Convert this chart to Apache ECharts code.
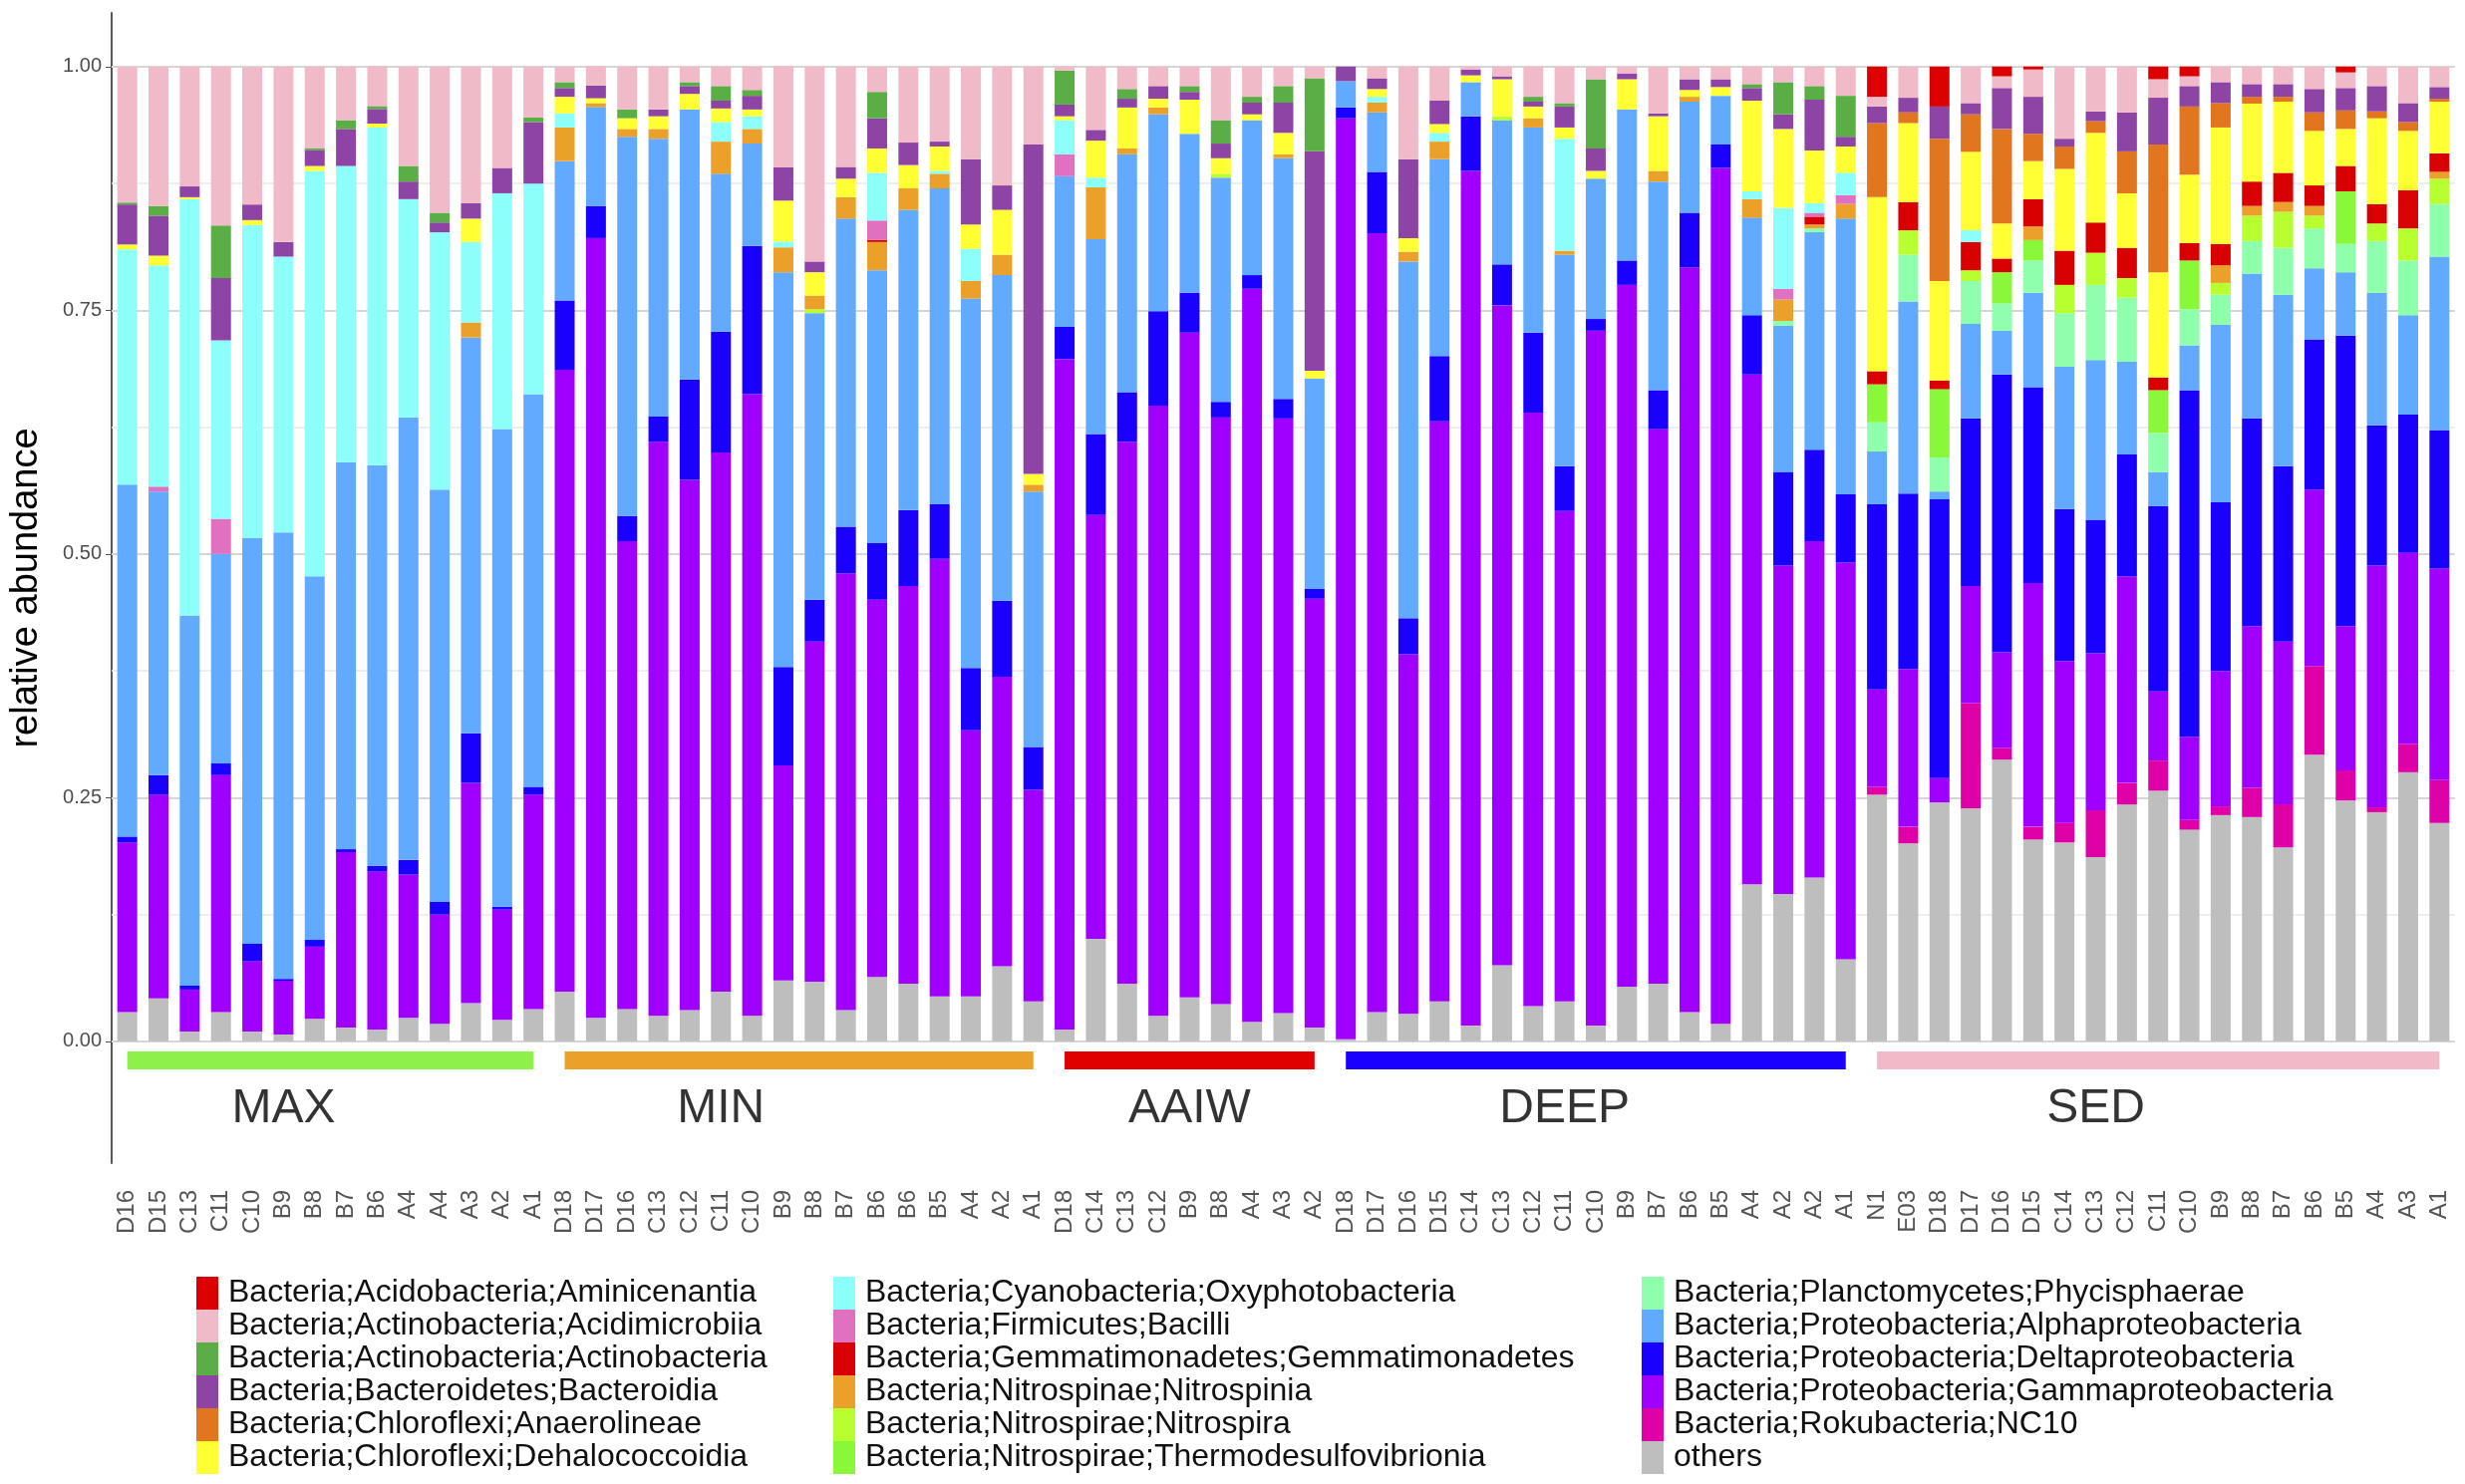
<!DOCTYPE html>
<html lang="en">
<head>
<meta charset="utf-8">
<title>relative abundance</title>
<script src="https://cdn.jsdelivr.net/npm/echarts@6/dist/echarts.min.js"></script>
<style>
  html, body { margin: 0; padding: 0; background: #fff; }
  #main { width: 2473px; height: 1489px; }
</style>
</head>
<body>
<div id="main"></div>
<script>
// sample names, MAX | MIN | AAIW | DEEP | SED
var samples = [
  'D16','D15','C13','C11','C10','B9','B8','B7','B6','A4','A4','A3','A2','A1',
  'D18','D17','D16','C13','C12','C11','C10','B9','B8','B7','B6','B6','B5','A4','A2','A1',
  'D18','C14','C13','C12','B9','B8','A4','A3','A2',
  'D18','D17','D16','D15','C14','C13','C12','C11','C10','B9','B7','B6','B5','A4','A2','A2','A1',
  'N1','E03','D18','D17','D16','D15','C14','C13','C12','C11','C10','B9','B8','B7','B6','B5','A4','A3','A1'
];
var groupNames = ['MAX', 'MIN', 'AAIW', 'DEEP', 'SED'];
var groupSizes = [14, 16, 9, 17, 19];
var groupLabelOffset = [5, 5, 4, 7, 7];
var groupColors = ['#8ef04a', '#eba02a', '#e00000', '#1a00ff', '#f2b9c8'];

var taxa = [
  'Bacteria;Acidobacteria;Aminicenantia',
  'Bacteria;Actinobacteria;Acidimicrobiia',
  'Bacteria;Actinobacteria;Actinobacteria',
  'Bacteria;Bacteroidetes;Bacteroidia',
  'Bacteria;Chloroflexi;Anaerolineae',
  'Bacteria;Chloroflexi;Dehalococcoidia',
  'Bacteria;Cyanobacteria;Oxyphotobacteria',
  'Bacteria;Firmicutes;Bacilli',
  'Bacteria;Gemmatimonadetes;Gemmatimonadetes',
  'Bacteria;Nitrospinae;Nitrospinia',
  'Bacteria;Nitrospirae;Nitrospira',
  'Bacteria;Nitrospirae;Thermodesulfovibrionia',
  'Bacteria;Planctomycetes;Phycisphaerae',
  'Bacteria;Proteobacteria;Alphaproteobacteria',
  'Bacteria;Proteobacteria;Deltaproteobacteria',
  'Bacteria;Proteobacteria;Gammaproteobacteria',
  'Bacteria;Rokubacteria;NC10',
  'others'
];
var taxaColors = [
  '#dc0000', '#f0bac8', '#5aae45', '#8e44a4', '#e2761e', '#ffff33',
  '#8dfffa', '#e070c0', '#d80000', '#eba02a', '#b8ff30', '#88f838',
  '#8effaa', '#62aaff', '#1a00ff', '#a000ff', '#e000a8', '#bebebe'
];

// relative abundance per taxon, 75 samples each
var aminicenantia = [
  0,0,0,0,0,0,0,0,0,0,0,0,0,0,
  0,0,0,0,0,0,0,0,0,0,0,0,0,0,0,0,
  0,0,0,0,0,0,0,0,0,
  0,0,0,0,0,0,0,0,0,0,0,0,0,0,0,0,0,
  .031,0,.041,0,.01,.003,0,0,0,.013,.01,0,0,0,0,.006,0,0,0
];
var acidimicrobiia = [
  .139,.143,.123,.163,.141,.18,.084,.055,.041,.102,.15,.14,.104,.052,
  .016,.02,.044,.044,.016,.02,.024,.104,.2,.103,.026,.078,.077,.095,.122,.08,
  .004,.065,.023,.02,.02,.055,.031,.02,.012,
  0,.012,.095,.035,.003,.01,.031,.0375,.013,.007,.048,.013,.013,.018,.016,.02,.03,
  .01,.032,0,.0375,.012,.028,.074,.046,.047,.019,.01,.016,.018,.018,.023,.016,.02,.0375,.021
];
var actinobacteria = [
  .002,.01,0,.054,0,0,.002,.009,.003,.016,.01,0,0,.005,
  .006,0,.009,0,.004,.015,.006,0,0,0,.027,0,0,0,0,0,
  .035,0,.01,0,.006,.024,.006,.017,.075,
  0,0,0,0,0,0,.005,.0035,.071,0,0,0,0,.004,.033,.014,.042,
  0,0,0,0,0,0,0,0,0,0,0,0,0,0,0,0,0,0,0
];
var bacteroidia = [
  .041,.041,.011,.064,.016,.015,.016,.038,.015,.018,.01,.016,.026,.063,
  .009,.013,0,.007,.008,.008,.014,.034,.011,.012,.031,.023,.005,.067,.025,.338,
  .012,.011,.009,.013,.008,.015,.012,.031,.225,
  .015,.011,.081,.024,.006,.003,.005,.0215,.023,.006,.003,.011,.008,.013,.015,.052,.01,
  .017,.015,.033,.0115,.042,.038,.008,.01,.04,.048,.021,.0215,.013,.013,.024,.023,.026,.0195,.012
];
var anaerolineae = [
  0,0,0,0,0,0,0,0,0,0,0,0,0,0,
  0,0,0,0,0,0,0,0,0,0,0,0,0,0,0,0,
  0,0,0,0,0,0,0,0,0,
  0,0,0,0,0,0,0,0,0,0,0,0,0,0,0,0,0,
  .076,.011,.146,.0385,.097,.028,.023,.012,.043,.131,.07,.025,.007,.005,.019,.019,.007,.009,.003
];
var dehalococcoidia = [
  .005,.01,.002,0,.005,0,.005,0,.004,0,0,.024,0,0,
  .017,.005,.011,.013,.016,.014,.007,.042,.024,.019,.025,.024,.025,.025,.046,.011,
  .004,.038,.042,.009,.035,.016,.006,.022,.008,
  0,.008,.014,.009,.007,.038,.012,.0115,.008,.031,.056,.007,.009,.093,.081,.054,.027,
  .1785,.081,.102,.0805,.036,.039,.084,.092,.056,.108,.07,.1195,.08,.073,.056,.038,.088,.061,.053
];
var oxyphotobacteria = [
  .2415,.227,.427,.183,.3215,.283,.416,.304,.3465,.224,.264,.0825,.242,.216,
  .0145,0,0,0,0,.02,.013,.006,0,0,.049,0,.003,.033,0,0,
  .035,.01,0,0,0,0,0,0,0,
  0,.006,0,.009,0,0,0,.115,0,0,0,0,0,.008,.083,.01,.023,
  0,0,0,.012,0,0,0,0,0,0,0,0,0,0,0,0,0,0,0
];
var bacilli = [
  0,.005,0,.036,0,0,0,0,0,0,0,0,0,0,
  0,0,0,0,0,0,0,0,0,0,.02,0,0,0,0,0,
  .0225,0,0,0,0,0,0,0,0,
  0,0,0,0,0,0,0,0,0,0,0,0,0,0,.011,.004,.009,
  0,0,0,0,0,0,0,0,0,0,0,0,0,0,0,0,0,0,0
];
var gemmatimonadetes = [
  0,0,0,0,0,0,0,0,0,0,0,0,0,0,
  0,0,0,0,0,0,0,0,0,0,.002,0,0,0,0,0,
  0,0,0,0,0,0,0,0,0,
  0,0,0,0,0,0,0,0,0,0,0,0,0,0,0,.008,0,
  .0135,.029,.009,.029,.014,.028,.035,.031,.031,.013,.018,.022,.025,.03,.021,.026,.02,.039,.019
];
var nitrospinia = [
  0,0,0,0,0,0,0,0,0,0,0,.0155,0,0,
  .0345,.004,.008,.01,0,.033,.015,.0255,.014,.022,.029,.022,.015,.018,.021,.007,
  0,.053,.006,.007,0,0,0,.004,0,
  0,.01,.01,.018,0,0,.0095,.004,0,0,.011,.005,0,.019,.022,.004,.015,
  0,0,0,0,0,.014,0,0,0,0,0,.018,.01,.01,.01,0,0,0,.007
];
var nitrospira = [
  0,0,0,0,0,0,0,0,0,0,0,0,0,0,
  0,0,0,0,0,0,0,0,.004,0,0,0,0,0,0,0,
  0,0,0,0,0,.004,0,0,0,
  0,0,0,0,0,.004,0,0,0,0,0,0,0,0,0,0,0,
  0,.025,0,.011,0,0,.029,.033,.02,0,0,.012,.026,.037,.013,0,.018,.033,.026
];
var thermodesulfovibrionia = [
  0,0,0,0,0,0,0,0,0,0,0,0,0,0,
  0,0,0,0,0,0,0,0,0,0,0,0,0,0,0,0,
  0,0,0,0,0,0,0,0,0,
  0,0,0,0,0,0,0,0,0,0,0,0,0,0,0,0,0,
  .039,0,.07,0,.032,.021,0,0,0,.044,.05,0,0,0,0,.054,0,0,0
];
var phycisphaerae = [
  0,0,0,0,0,0,0,0,0,0,0,0,0,0,
  0,0,0,0,0,0,0,0,0,0,0,0,0,0,0,0,
  0,0,0,0,0,0,0,0,0,
  0,0,0,0,0,0,0,0,0,0,0,0,0,0,.005,.004,0,
  .03,.048,.035,.044,.028,.033,.055,.077,.066,.04,.037,.031,.0335,.048,.041,.029,.053,.056,.054
];
var alphaproteobacteria = [
  .361,.291,.38,.215,.416,.458,.373,.397,.411,.454,.423,.406,.49,.403,
  .143,.1015,.389,.285,.277,.162,.105,.405,.294,.316,.28,.308,.324,.379,.334,.262,
  .1545,.2,.244,.202,.163,.23,.159,.247,.216,
  .027,.061,.366,.202,.035,.148,.2105,.217,.144,.155,.214,.114,.05,.1,.15,.223,.283,
  .054,.197,.008,.097,.045,.097,.146,.164,.095,.035,.046,.182,.1485,.176,.073,.065,.136,.102,.178
];
var deltaproteobacteria = [
  .006,.02,.004,.012,.018,.002,.007,.003,.006,.015,.013,.051,.003,.008,
  .071,.033,.026,.026,.103,.124,.152,.101,.043,.048,.058,.078,.056,.064,.078,.044,
  .033,.083,.051,.097,.041,.016,.014,.02,.01,
  .011,.063,.037,.067,.056,.042,.082,.046,.012,.025,.04,.056,.024,.061,.096,.094,.07,
  .19,.18,.286,.172,.285,.201,.156,.137,.125,.19,.3555,.173,.213,.18,.154,.298,.144,.142,.142
];
var gammaproteobacteria = [
  .174,.209,.043,.243,.072,.055,.074,.18,.162,.147,.112,.226,.113,.22,
  .638,.8,.48,.589,.544,.553,.638,.2205,.349,.448,.387,.408,.449,.273,.297,.217,
  .688,.435,.556,.626,.682,.602,.752,.61,.44,
  .945,.799,.369,.595,.877,.677,.609,.503,.713,.72,.569,.764,.878,.523,.337,.345,.407,
  .1,.162,.025,.12,.098,.25,.166,.161,.212,.071,.0855,.139,.166,.167,.181,.148,.248,.196,.217
];
var nc10 = [
  0,0,0,0,0,0,0,0,0,0,0,0,0,0,
  0,0,0,0,0,0,0,0,0,0,0,0,0,0,0,0,
  0,0,0,0,0,0,0,0,0,
  0,0,0,0,0,0,0,0,0,0,0,0,0,0,0,0,0,
  .008,.017,0,.108,.012,.013,.02,.048,.022,.031,.01,.009,.03,.044,.091,.031,.005,.029,.044
];
var others = [
  .03,.044,.01,.03,.01,.007,.023,.014,.012,.024,.018,.039,.022,.033,
  .051,.024,.033,.026,.032,.051,.026,.0625,.061,.032,.066,.059,.046,.046,.077,.041,
  .012,.105,.059,.026,.045,.038,.02,.029,.014,
  .002,.03,.028,.041,.016,.078,.036,.041,.016,.056,.059,.03,.018,.161,.151,.168,.084,
  .253,.203,.245,.239,.289,.207,.204,.189,.243,.257,.217,.232,.23,.199,.294,.247,.235,.276,.224
];

var taxaValues = [
  aminicenantia, acidimicrobiia, actinobacteria, bacteroidia, anaerolineae, dehalococcoidia,
  oxyphotobacteria, bacilli, gemmatimonadetes, nitrospinia, nitrospira, thermodesulfovibrionia,
  phycisphaerae, alphaproteobacteria, deltaproteobacteria, gammaproteobacteria, nc10, others
];

var yTicks = [0, 0.25, 0.5, 0.75, 1];
var gridValues = [0, 0.125, 0.25, 0.375, 0.5, 0.625, 0.75, 0.875, 1];

var FONT = 'Liberation Sans';
var chart = echarts.init(document.getElementById('main'));

// stacked bars, others at the bottom
var series = [];
for (var k = taxa.length - 1; k >= 0; k--) {
  series.push({
    name: taxa[k],
    type: 'bar',
    stack: 'total',
    barWidth: 20,
    z: 2,
    itemStyle: { color: taxaColors[k] },
    emphasis: { disabled: true },
    data: taxaValues[k]
  });
}

// grid lines and group underlines
var underline = [];
var groupLabels = [];
var start = 0;
for (var g = 0; g < groupNames.length; g++) {
  underline.push([
    { xAxis: start, yAxis: -0.0194, lineStyle: { color: groupColors[g] } },
    { xAxis: start + groupSizes[g] - 1, yAxis: -0.0194 }
  ]);
  groupLabels.push([start + groupLabelOffset[g], -0.07, groupNames[g]]);
  start += groupSizes[g];
}

series.push({
  type: 'line',
  data: [],
  silent: true,
  markLine: {
    z: 1,
    silent: true,
    symbol: 'none',
    label: { show: false },
    lineStyle: { type: 'solid', color: '#dedede', width: 1.5 },
    data: gridValues.map(function (v) {
      var major = (v * 4) % 1 === 0;
      return { yAxis: v, lineStyle: { color: major ? '#d6d6d6' : '#e8e8e8', width: major ? 2 : 1.5 } };
    })
  }
});
series.push({
  type: 'line',
  data: [],
  silent: true,
  markLine: {
    z: 3,
    silent: true,
    symbol: 'none',
    label: { show: false },
    lineStyle: { type: 'solid', width: 18, cap: 'butt' },
    data: underline
  }
});
series.push({
  type: 'scatter',
  silent: true,
  symbolSize: 1,
  itemStyle: { color: 'rgba(0,0,0,0)' },
  label: {
    show: true,
    position: 'inside',
    formatter: function (p) { return p.value[2]; },
    fontFamily: FONT,
    fontSize: 48,
    color: '#000'
  },
  data: groupLabels
});

var legends = [0, 1, 2].map(function (c) {
  return {
    orient: 'vertical',
    left: [192, 831, 1642][c],
    top: 1276,
    icon: 'rect',
    itemWidth: 22,
    itemHeight: 33,
    itemGap: 0,
    selectedMode: false,
    textStyle: { fontFamily: FONT, fontSize: 32, color: '#111', padding: [0, 0, 0, 5] },
    data: taxa.slice(c * 6, c * 6 + 6)
  };
});

chart.setOption({
  animation: false,
  backgroundColor: '#fff',
  textStyle: { fontFamily: FONT },
  grid: { left: 98, right: 10, top: 13, bottom: 322 },
  legend: legends,
  xAxis: {
    type: 'category',
    data: samples.map(function (s, i) { return s + '_' + i; }),
    axisLine: { show: false },
    axisTick: { show: false },
    axisLabel: {
      interval: 0,
      rotate: 90,
      margin: 27,
      fontFamily: FONT,
      fontSize: 24,
      color: '#555',
      formatter: function (v, i) { return samples[i]; }
    }
  },
  yAxis: {
    type: 'value',
    min: -0.125,
    max: 1.055,
    name: 'relative abundance',
    nameLocation: 'middle',
    nameGap: 66,
    nameTextStyle: { fontFamily: FONT, fontSize: 38, color: '#000' },
    splitLine: { show: false },
    axisLine: { show: true, lineStyle: { color: '#555', width: 2 } },
    axisTick: { show: true, length: 6, customValues: yTicks, lineStyle: { color: '#555' } },
    axisLabel: {
      customValues: yTicks,
      fontFamily: FONT,
      fontSize: 20,
      color: '#4d4d4d',
      margin: 10,
      formatter: function (v) { return v.toFixed(2); }
    }
  },
  series: series
});
</script>
</body>
</html>
